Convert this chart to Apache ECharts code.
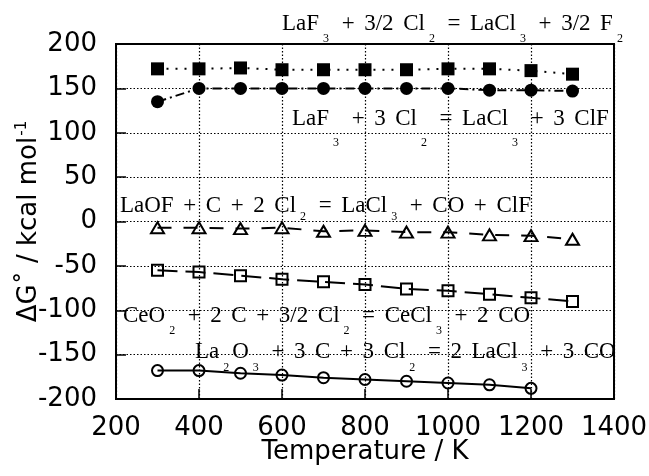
<!DOCTYPE html>
<html>
<head>
<meta charset="UTF-8">
<title>Gibbs energy of chlorination</title>
<script src="https://cdn.jsdelivr.net/npm/echarts@6/dist/echarts.min.js"></script>
<style>
html, body { margin: 0; padding: 0; background: #fff; }
#chart { width: 649px; height: 476px; }
</style>
</head>
<body>
<div id="chart"></div>
<script>
// temperatures (K)
var temps = [300, 400, 500, 600, 700, 800, 900, 1000, 1100, 1200, 1300];
var tempsLa2O3 = [300, 400, 500, 600, 700, 800, 900, 1000, 1100, 1200];

// dG (kcal/mol)
var dgLaF3toF2 = [172, 172, 173, 171, 171, 171, 171, 172, 172, 170, 166];
var dgLaF3toClF = [135, 150, 150, 150, 150, 150, 150, 150, 148, 148, 147];
var dgLaOF = [-7, -7, -8, -7, -11, -10, -12, -12, -15, -16, -20];
var dgCeO2 = [-55, -57, -61, -65, -68, -71, -76, -78, -82, -86, -90];
var dgLa2O3 = [-168, -168, -171, -173, -176, -178, -180, -182, -184, -188];

// reaction labels: [text, subscript]
var rxLaF3toF2 = [['LaF', '3'], [' + 3/2 Cl', '2'], [' = LaCl', '3'], [' + 3/2 F', '2']];
var rxLaF3toClF = [['LaF', '3'], [' + 3 Cl', '2'], [' = LaCl', '3'], [' + 3 ClF', '']];
var rxLaOF = [['LaOF + C + 2 Cl', '2'], [' = LaCl', '3'], [' + CO + ClF', '']];
var rxCeO2 = [['CeO', '2'], [' + 2 C + 3/2 Cl', '2'], [' = CeCl', '3'], [' + 2 CO', '']];
var rxLa2O3 = [['La', '2'], ['O', '3'], [' + 3 C + 3 Cl', '2'], [' = 2 LaCl', '3'], [' + 3 CO', '']];

var serif = '"Liberation Serif", "Times New Roman", serif';
var sans = '"DejaVu Sans", sans-serif';

function pairs(xs, ys) {
  return xs.map(function (x, i) { return [x, ys[i]]; });
}

// one reaction label, subscripts dropped by "drop" px under the baseline
function reaction(parts, left, baseline, drop) {
  var pt = drop + 8.3;
  var txt = parts.map(function (p) {
    var s = '{n|' + p[0].replace(/ /g, '\u2005\u2006') + '}';
    if (p[1]) s += '{s|' + p[1] + '}';
    return s;
  }).join('');
  return {
    type: 'text',
    x: left,
    y: baseline - 19,
    z: 100,
    style: {
      text: txt,
      fill: '#000',
      align: 'left',
      verticalAlign: 'top',
      rich: {
        n: { fontSize: 23, fontFamily: serif, fill: '#000', padding: [0, 0, pt - 11, 0] },
        s: { fontSize: 12, fontFamily: serif, fill: '#000', padding: [pt, 3, 0, 4] }
      }
    }
  };
}

var chart = echarts.init(document.getElementById('chart'));

var axisLbl = { color: '#000', fontSize: 26, fontFamily: sans, formatter: function (v) { return String(v); } };
var dotted = { color: '#000', width: 1.2, type: [1.5, 2] };

chart.setOption({
  animation: false,
  backgroundColor: '#fff',
  grid: {
    left: 116, right: 35, top: 44, bottom: 77,
    outerBoundsMode: 'none',
    show: true, borderColor: '#000', borderWidth: 2
  },
  xAxis: {
    type: 'value', min: 200, max: 1400, interval: 200,
    name: 'Temperature / K',
    nameLocation: 'middle', nameGap: 40, nameMoveOverlap: false,
    nameTextStyle: { color: '#000', fontSize: 26, fontFamily: sans },
    axisLine: { show: true, onZero: false, lineStyle: { color: '#000', width: 2 } },
    axisTick: { show: true, inside: true, length: 10, lineStyle: { color: '#000', width: 1.5 } },
    axisLabel: Object.assign({ margin: 16 }, axisLbl),
    splitLine: { show: true, lineStyle: dotted }
  },
  yAxis: {
    type: 'value', min: -200, max: 200, interval: 50,
    name: '{a|ΔG˚ / kcal mol}{b|-1}',
    nameLocation: 'middle', nameGap: 72, nameMoveOverlap: false,
    nameTextStyle: {
      color: '#000',
      rich: {
        a: { fontSize: 26, fontFamily: sans, color: '#000' },
        b: { fontSize: 15, fontFamily: sans, color: '#000', padding: [0, 0, 14, 1] }
      }
    },
    axisLine: { show: true, onZero: false, lineStyle: { color: '#000', width: 2 } },
    axisTick: { show: true, inside: true, length: 10, lineStyle: { color: '#000', width: 1.5 } },
    axisLabel: Object.assign({ margin: 19 }, axisLbl),
    splitLine: { show: true, lineStyle: dotted }
  },
  series: [
    {
      name: 'LaF3 -> F2', type: 'line', data: pairs(temps, dgLaF3toF2),
      symbol: 'rect', symbolSize: 13,
      itemStyle: { color: '#000' },
      lineStyle: { color: '#000', width: 2, type: [2, 7] }
    },
    {
      name: 'LaF3 -> ClF', type: 'line', data: pairs(temps, dgLaF3toClF),
      symbol: 'circle', symbolSize: 13,
      itemStyle: { color: '#000' },
      lineStyle: { color: '#000', width: 2, type: [9, 4, 2, 4] }
    },
    {
      name: 'LaOF', type: 'line', data: pairs(temps, dgLaOF),
      symbol: 'triangle', symbolSize: [13, 11],
      itemStyle: { color: 'rgba(0,0,0,0)', borderColor: '#000', borderWidth: 2 },
      lineStyle: { color: '#000', width: 2, type: [14, 12] }
    },
    {
      name: 'CeO2', type: 'line', data: pairs(temps, dgCeO2),
      symbol: 'rect', symbolSize: 11,
      itemStyle: { color: 'rgba(0,0,0,0)', borderColor: '#000', borderWidth: 2 },
      lineStyle: { color: '#000', width: 2, type: [20, 8] }
    },
    {
      name: 'La2O3', type: 'line', data: pairs(tempsLa2O3, dgLa2O3),
      symbol: 'circle', symbolSize: 11,
      itemStyle: { color: 'rgba(0,0,0,0)', borderColor: '#000', borderWidth: 2 },
      lineStyle: { color: '#000', width: 2 }
    }
  ],
  graphic: [
    reaction(rxLaF3toF2, 282, 31, 13),
    reaction(rxLaF3toClF, 292, 126, 22),
    reaction(rxLaOF, 120, 213, 9),
    reaction(rxCeO2, 123, 323, 13),
    reaction(rxLa2O3, 195, 359, 14)
  ]
});
</script>
</body>
</html>
